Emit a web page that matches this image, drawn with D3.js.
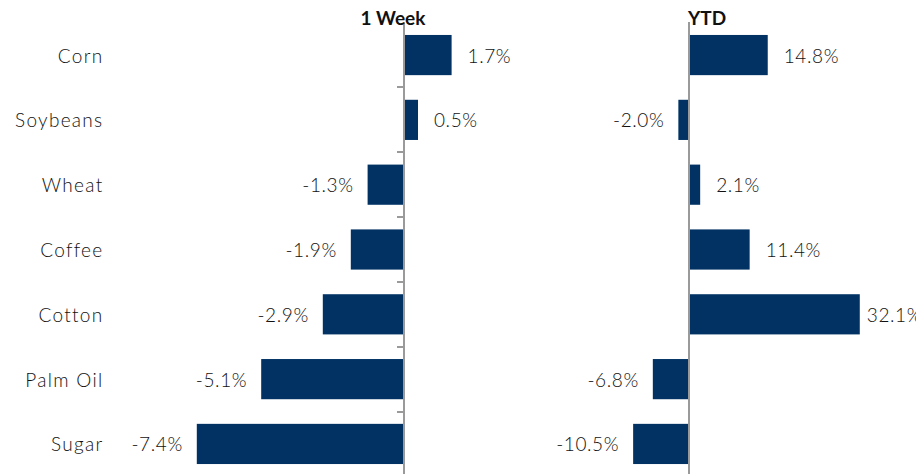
<!DOCTYPE html>
<html><head><meta charset="utf-8">
<script src="https://cdn.jsdelivr.net/npm/d3@7"></script>
<style>html,body{margin:0;padding:0;background:#fff;overflow:hidden}text{font-family:Lato,"Open Sans",sans-serif}</style>
</head><body><svg id="c" width="916" height="474"></svg>
<script>
const categories = ["Corn","Soybeans","Wheat","Coffee","Cotton","Palm Oil","Sugar"];
const weekValues = [1.7, 0.5, -1.3, -1.9, -2.9, -5.1, -7.4];
const ytdValues = [14.8, -2.0, 2.1, 11.4, 32.1, -6.8, -10.5];
const panelTitles = ["1 Week","YTD"];

const W = 916;
const svg = d3.select("#c");
const barColor = "#013263";
const y = d3.scaleBand().domain(categories).range([22, 477]).paddingInner(0.38).paddingOuter(0.2);
const yTick = d3.scaleBand().domain(categories).range([22, 477]);

const xW = d3.scaleLinear().domain([-8, 2]).range([404 - 8*28.0, 404 + 2*28.0]);
const xY = d3.scaleLinear().domain([-12, 34]).range([689 - 12*5.32, 689 + 34*5.32]);

// category labels
svg.append("g").selectAll("text").data(categories).join("text")
  .attr("x", 103.5).attr("y", d => y(d) + y.bandwidth()/2)
  .attr("text-anchor","end").attr("dominant-baseline","central")
  .attr("font-size", 19).attr("font-weight", 300).attr("letter-spacing", 1.3)
  .attr("fill","#111").text(d => d);

function panel(vals, x, title, titleX, anchor, ticks) {
  const g = svg.append("g");
  g.selectAll("rect").data(vals).join("rect")
    .attr("x", d => x(Math.min(0,d))).attr("width", d => Math.abs(x(d)-x(0)))
    .attr("y", (d,i) => y(categories[i])).attr("height", y.bandwidth())
    .attr("fill", barColor);
  g.selectAll("text.v").data(vals).join("text").attr("class","v")
    .attr("x", d => d >= 0 ? (x(d) + 16 + 50 > W ? x(d) + 7 : x(d) + 16) : x(d) - 14)
    .attr("y", (d,i) => y(categories[i]) + y.bandwidth()/2)
    .attr("text-anchor", d => d >= 0 ? "start" : "end")
    .attr("dominant-baseline","central").attr("font-size", 19).attr("font-weight", 300)
    .attr("letter-spacing", 0.6).attr("fill","#111")
    .text(d => d.toFixed(1) + "%");
  const x0 = x(0);
  g.append("line").attr("x1", x0).attr("x2", x0).attr("y1", 22).attr("y2", 474)
    .attr("stroke","#9a9a9a").attr("stroke-width", 2);
  if (ticks) {
    g.selectAll("line.t").data(categories.slice(1)).join("line").attr("class","t")
      .attr("x1", x0 - 7).attr("x2", x0).attr("y1", d => yTick(d)).attr("y2", d => yTick(d))
      .attr("stroke","#9a9a9a").attr("stroke-width", 2);
  }
  g.append("text").attr("x", titleX).attr("y", 25).attr("text-anchor", anchor)
    .attr("font-size", 19).attr("font-weight","bold").attr("fill","#111").text(title);
}
panel(weekValues, xW, panelTitles[0], 393, "middle", true);
panel(ytdValues, xY, panelTitles[1], 688, "start", false);
</script></body></html>
